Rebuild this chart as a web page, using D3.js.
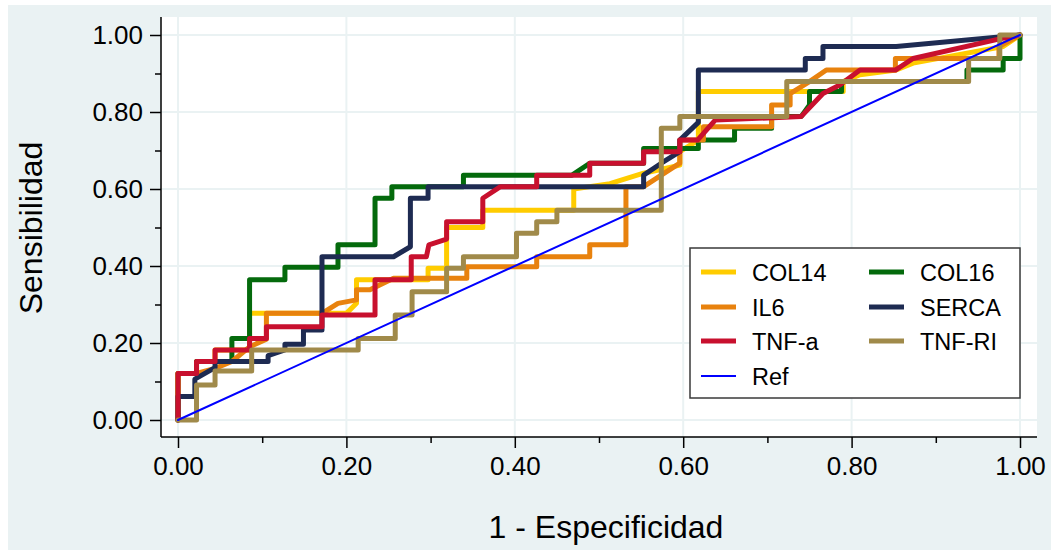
<!DOCTYPE html>
<html>
<head>
<meta charset="utf-8">
<script src="https://cdn.jsdelivr.net/npm/d3@7"></script>
<style>
  body { margin: 0; background: #ffffff; }
  svg { display: block; }
  text { font-family: "Liberation Sans", Arial, Helvetica, sans-serif; fill: #000; }
</style>
</head>
<body>
<svg id="chart" width="1059" height="550"></svg>
<script>
// ---- data: ROC points as [1 - specificity, sensitivity] ----
const majorTicks = [0, 0.2, 0.4, 0.6, 0.8, 1];
const minorTicks = [0.1, 0.3, 0.5, 0.7, 0.9];

const col14 = [[0,0],[0,0.121],[0.022,0.121],[0.022,0.152],[0.044,0.152],[0.044,0.182],[0.085,0.182],[0.085,0.277],
  [0.2,0.277],[0.212,0.303],[0.212,0.364],[0.297,0.364],[0.297,0.394],[0.319,0.394],[0.319,0.5],[0.362,0.5],
  [0.362,0.545],[0.47,0.545],[0.47,0.6],[0.513,0.614],[0.553,0.641],[0.576,0.652],[0.596,0.662],[0.596,0.697],
  [0.618,0.727],[0.618,0.853],[0.79,0.853],[0.79,0.879],[0.81,0.897],[0.853,0.909],[0.873,0.927],[0.98,0.97],[1,1]];

const col16 = [[0,0],[0,0.121],[0.022,0.121],[0.022,0.152],[0.064,0.152],[0.064,0.212],[0.085,0.212],[0.085,0.364],
  [0.127,0.364],[0.127,0.397],[0.19,0.397],[0.19,0.455],[0.234,0.455],[0.234,0.576],[0.254,0.576],[0.254,0.606],
  [0.339,0.606],[0.339,0.636],[0.468,0.636],[0.489,0.667],[0.553,0.667],[0.553,0.705],[0.618,0.705],[0.618,0.727],
  [0.661,0.727],[0.661,0.758],[0.705,0.758],[0.705,0.788],[0.74,0.788],[0.75,0.818],[0.75,0.853],[0.788,0.853],
  [0.788,0.879],[0.937,0.879],[0.937,0.909],[0.98,0.909],[0.98,0.939],[1,0.939],[1,1]];

const il6 = [[0,0],[0,0.121],[0.022,0.121],[0.044,0.134],[0.064,0.152],[0.085,0.19],[0.105,0.21],[0.105,0.277],
  [0.171,0.277],[0.19,0.303],[0.212,0.312],[0.212,0.338],[0.228,0.338],[0.256,0.368],[0.343,0.368],[0.343,0.398],
  [0.426,0.398],[0.426,0.424],[0.489,0.424],[0.489,0.455],[0.532,0.455],[0.532,0.606],[0.553,0.606],[0.574,0.636],
  [0.596,0.667],[0.596,0.727],[0.624,0.727],[0.624,0.762],[0.705,0.762],[0.705,0.818],[0.727,0.818],[0.727,0.848],
  [0.75,0.879],[0.77,0.909],[0.852,0.909],[0.852,0.939],[0.975,0.939],[0.975,0.97],[1,1]];

const serca = [[0,0],[0,0.061],[0.02,0.061],[0.02,0.106],[0.044,0.136],[0.044,0.152],[0.107,0.152],[0.107,0.167],
  [0.127,0.182],[0.127,0.197],[0.149,0.197],[0.149,0.234],[0.171,0.234],[0.171,0.424],[0.256,0.424],[0.276,0.45],
  [0.276,0.576],[0.297,0.576],[0.297,0.606],[0.553,0.606],[0.553,0.636],[0.574,0.667],[0.596,0.697],[0.596,0.727],
  [0.618,0.773],[0.618,0.909],[0.745,0.909],[0.745,0.939],[0.766,0.939],[0.766,0.97],[0.853,0.97],[1,1]];

const tnfA = [[0,0],[0,0.121],[0.022,0.121],[0.022,0.152],[0.044,0.152],[0.044,0.182],[0.085,0.182],[0.085,0.212],
  [0.105,0.212],[0.105,0.242],[0.171,0.242],[0.171,0.273],[0.234,0.273],[0.234,0.364],[0.277,0.364],[0.277,0.424],
  [0.295,0.424],[0.298,0.455],[0.319,0.47],[0.319,0.515],[0.362,0.515],[0.362,0.576],[0.383,0.606],[0.426,0.606],
  [0.426,0.636],[0.489,0.636],[0.489,0.667],[0.553,0.667],[0.553,0.697],[0.596,0.697],[0.596,0.727],[0.617,0.727],
  [0.638,0.779],[0.74,0.788],[0.766,0.848],[0.786,0.87],[0.81,0.909],[0.852,0.909],[0.873,0.939],[0.976,0.99],[1,1]];

const tnfRI = [[0,0],[0.022,0],[0.022,0.091],[0.044,0.091],[0.044,0.127],[0.0875,0.127],[0.0875,0.182],[0.214,0.182],
  [0.214,0.212],[0.258,0.212],[0.258,0.273],[0.278,0.273],[0.278,0.333],[0.319,0.333],[0.319,0.394],[0.339,0.394],
  [0.339,0.424],[0.402,0.424],[0.402,0.485],[0.426,0.485],[0.426,0.515],[0.45,0.515],[0.45,0.545],[0.574,0.545],
  [0.574,0.758],[0.596,0.758],[0.596,0.788],[0.723,0.788],[0.723,0.879],[0.939,0.879],[0.939,0.939],[0.976,0.939],
  [0.976,1],[1,1]];

const refLine = [[0,0],[1,1]];

const seriesNames = ["COL14", "COL16", "IL6", "SERCA", "TNF-a", "TNF-RI", "Ref"];
const seriesData  = [col14, col16, il6, serca, tnfA, tnfRI, refLine];

// ---- styling ----
const seriesColors = ["#ffcc00", "#046a0c", "#e8820e", "#1e2b52", "#c8102e", "#a08a4a", "#0000ff"];
const seriesWidths = [5, 5, 5, 5, 5, 5, 2];

const W = 1059, H = 550;
const plot = { left: 161, right: 1037, top: 17, bottom: 437 };
const bgColor = "#eaf2f3";

const svg = d3.select("#chart");

// outer graph region
svg.append("rect").attr("x", 8).attr("y", 5).attr("width", W - 8 - 8).attr("height", H - 5)
  .attr("fill", bgColor);
// plot region
svg.append("rect").attr("x", plot.left).attr("y", plot.top)
  .attr("width", plot.right - plot.left).attr("height", plot.bottom - plot.top).attr("fill", "#ffffff");

const x = d3.scaleLinear().domain([0, 1]).range([178, 1020]);
const y = d3.scaleLinear().domain([0, 1]).range([420, 35]);

// grid lines
const grid = svg.append("g").attr("stroke", bgColor).attr("stroke-width", 2);
grid.selectAll("line.v").data(majorTicks).join("line").attr("class", "v")
  .attr("x1", d => x(d)).attr("x2", d => x(d)).attr("y1", plot.top).attr("y2", plot.bottom);
grid.selectAll("line.h").data(majorTicks).join("line").attr("class", "h")
  .attr("y1", d => y(d)).attr("y2", d => y(d)).attr("x1", plot.left).attr("x2", plot.right);

// curves
const line = d3.line().x(d => x(d[0])).y(d => y(d[1]));
svg.append("g").selectAll("path").data(seriesData).join("path")
  .attr("d", line)
  .attr("fill", "none")
  .attr("stroke", (d, i) => seriesColors[i])
  .attr("stroke-width", (d, i) => seriesWidths[i])
  .attr("stroke-linejoin", "round")
  .attr("stroke-linecap", "round");

// axes
const fmt = d3.format(".2f");
const styleAxis = g => {
  g.select(".domain").remove();
  g.selectAll("line").attr("stroke", "#000").attr("stroke-width", 1.5);
  g.selectAll("text").attr("font-size", 26).attr("font-family", "Liberation Sans, Arial, sans-serif").attr("fill", "#000");
};

svg.append("g").attr("transform", `translate(${plot.left},0)`)
  .call(d3.axisLeft(y).tickValues(majorTicks).tickFormat(fmt).tickSize(11).tickPadding(7))
  .call(styleAxis);
svg.append("g").attr("transform", `translate(${plot.left},0)`)
  .call(d3.axisLeft(y).tickValues(minorTicks).tickFormat("").tickSize(6))
  .call(styleAxis);
svg.append("g").attr("transform", `translate(0,${plot.bottom})`)
  .call(d3.axisBottom(x).tickValues(majorTicks).tickFormat(fmt).tickSize(11).tickPadding(9))
  .call(styleAxis);
svg.append("g").attr("transform", `translate(0,${plot.bottom})`)
  .call(d3.axisBottom(x).tickValues(minorTicks).tickFormat("").tickSize(6))
  .call(styleAxis);

// axis lines
svg.append("line").attr("x1", plot.left).attr("x2", plot.left).attr("y1", plot.top).attr("y2", plot.bottom)
  .attr("stroke", "#000").attr("stroke-width", 1.5);
svg.append("line").attr("x1", plot.left).attr("x2", plot.right).attr("y1", plot.bottom).attr("y2", plot.bottom)
  .attr("stroke", "#000").attr("stroke-width", 1.5);

// axis titles
svg.append("text").attr("transform", "translate(42,228) rotate(-90)")
  .attr("text-anchor", "middle").attr("font-size", 32).text("Sensibilidad");
svg.append("text").attr("x", 606).attr("y", 538)
  .attr("text-anchor", "middle").attr("font-size", 32).text("1 - Especificidad");

// legend
const legend = svg.append("g");
legend.append("rect").attr("x", 690).attr("y", 248).attr("width", 330).attr("height", 150)
  .attr("fill", "#fff").attr("stroke", "#3a3a3a").attr("stroke-width", 1.5);
const legendCols = [701, 869];
const legendRows = [272, 307, 341, 376];
const items = legend.selectAll("g.item").data(seriesNames).join("g").attr("class", "item")
  .attr("transform", (d, i) => `translate(${legendCols[i % 2]},${legendRows[Math.floor(i / 2)]})`);
items.append("line").attr("x1", 0).attr("x2", 35).attr("y1", 0).attr("y2", 0)
  .attr("stroke", (d, i) => seriesColors[i])
  .attr("stroke-width", (d, i) => seriesWidths[i]);
items.append("text").attr("x", 51).attr("y", 8.5).attr("font-size", 23.5).text(d => d);
</script>
</body>
</html>
